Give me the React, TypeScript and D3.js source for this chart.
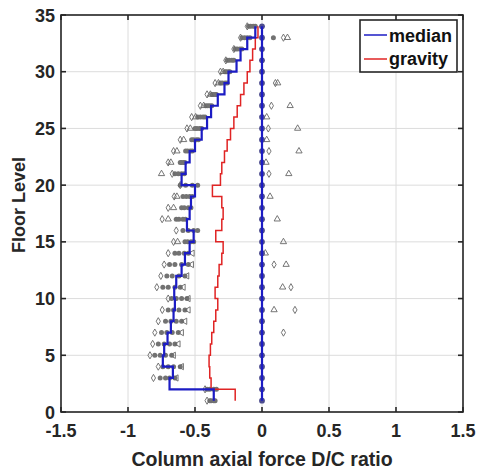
import React from "react";
import * as d3 from "d3";

const width = 479;
const height = 472;

// floor levels 1..34 and stories (segment from floor k to k+1)
const floors = [1, 2, 3, 4, 5, 6, 7, 8, 9, 10, 11, 12, 13, 14, 15, 16, 17, 18, 19, 20, 21, 22, 23, 24, 25, 26, 27, 28, 29, 30, 31, 32, 33, 34];
const stories = [1, 2, 3, 4, 5, 6, 7, 8, 9, 10, 11, 12, 13, 14, 15, 16, 17, 18, 19, 20, 21, 22, 23, 24, 25, 26, 27, 28, 29, 30, 31, 32, 33];

const medianVals = [-0.36, -0.69, -0.665, -0.74, -0.73, -0.705, -0.68, -0.66, -0.65, -0.655, -0.64, -0.6, -0.575, -0.54, -0.51, -0.56, -0.54, -0.53, -0.5, -0.6, -0.57, -0.54, -0.5, -0.45, -0.41, -0.38, -0.33, -0.28, -0.25, -0.19, -0.16, -0.11, -0.05];
const gravityVals = [-0.2, -0.38, -0.39, -0.395, -0.385, -0.375, -0.36, -0.345, -0.33, -0.35, -0.33, -0.32, -0.3, -0.29, -0.345, -0.3, -0.29, -0.3, -0.37, -0.31, -0.3, -0.28, -0.26, -0.235, -0.21, -0.185, -0.16, -0.135, -0.11, -0.09, -0.07, -0.05, -0.03];

// individual record results (gray filled dots), four per floor
const dotsA = [-0.39, -0.41, -0.76, -0.74, -0.8, -0.774, -0.75, -0.72, -0.7, -0.674, -0.74, -0.71, -0.69, -0.65, -0.575, -0.59, -0.64, -0.6, -0.59, -0.61, -0.65, -0.61, -0.57, -0.525, -0.5, -0.48, -0.42, -0.375, -0.31, -0.276, -0.26, -0.2, -0.15, -0.1];
const dotsB = [-0.38, -0.39, -0.72, -0.7, -0.76, -0.73, -0.71, -0.68, -0.66, -0.64, -0.7, -0.67, -0.65, -0.62, -0.555, -0.55, -0.62, -0.58, -0.565, -0.57, -0.625, -0.6, -0.555, -0.51, -0.485, -0.46, -0.405, -0.365, -0.295, -0.265, -0.245, -0.185, -0.13, -0.085];
const dotsC = [-0.36, -0.36, -0.69, -0.66, -0.72, -0.69, -0.67, -0.64, -0.62, -0.6, -0.65, -0.62, -0.6, -0.58, -0.53, -0.51, -0.59, -0.55, -0.54, -0.52, -0.6, -0.585, -0.535, -0.49, -0.465, -0.44, -0.39, -0.35, -0.275, -0.25, -0.225, -0.165, -0.11, -0.065];
const dotsD = [-0.35, -0.34, -0.65, -0.61, -0.674, -0.65, -0.625, -0.6, -0.575, -0.56, -0.61, -0.575, -0.55, -0.55, -0.51, -0.48, -0.57, -0.53, -0.52, -0.48, -0.58, -0.575, -0.52, -0.475, -0.45, -0.425, -0.375, -0.34, -0.26, -0.24, -0.21, -0.15, -0.09, -0.05];

// open markers on the compression side (null = not shown)
const diamondL = [-0.41, -0.425, -0.81, -0.774, -0.836, -0.816, -0.8, -0.774, -0.744, -0.7, -0.785, -0.755, -0.73, -0.7, -0.66, -0.64, -0.745, -0.7, -0.655, -0.61, -0.67, -0.7, -0.66, -0.61, -0.56, -0.525, -0.46, -0.41, -0.35, -0.31, -0.27, -0.21, -0.16, -0.11];
const triUpL = [null, null, null, null, null, null, null, null, null, null, null, null, null, null, -0.63, null, -0.7, -0.66, -0.635, null, -0.75, -0.68, -0.635, -0.585, -0.535, -0.495, -0.435, -0.385, -0.325, -0.29, null, null, null, null];
const triLeftL = [null, null, -0.64, -0.6, -0.66, -0.625, -0.6, -0.575, -0.55, -0.55, -0.587, -0.56, -0.525, -0.52, null, null, null, null, null, null, null, null, null, null, null, null, null, null, null, null, null, null, null, null];

// tension side records
const rightDiamondFloors = [33, 29, 27, 25, 23, 21, 13, 11, 9, 7];
const rightDiamondVals = [0.16, 0.1, 0.07, 0.047, 0.052, 0.052, 0.09, 0.216, 0.246, 0.16];
const rightTriFloors = [33, 29, 27, 26, 25, 24, 23, 22, 21, 19, 17, 15, 14, 13, 11, 9];
const rightTriVals = [0.19, 0.117, 0.21, 0.035, 0.266, 0.035, 0.276, 0.03, 0.2, 0.06, 0.114, 0.16, 0.025, 0.18, 0.154, 0.09];
const rightDotFloors = [33];
const rightDotVals = [0.085];
const zeroVals = floors.map(() => 0);

const xTicks = [-1.5, -1, -0.5, 0, 0.5, 1, 1.5];
const yTicks = [0, 5, 10, 15, 20, 25, 30, 35];

const left = 61;
const right = 463;
const top = 15;
const bottom = 412;
const font = "'Liberation Sans', Arial, Helvetica, sans-serif";

export default function App() {
  const x = d3.scaleLinear().domain([-1.5, 1.5]).range([left, right]);
  const y = d3.scaleLinear().domain([0, 35]).range([bottom, top]);

  const stairs = (vals: number[]) => {
    const pts: [number, number][] = [];
    stories.forEach((k, i) => {
      pts.push([vals[i], k]);
      pts.push([vals[i], k + 1]);
    });
    return d3
      .line<[number, number]>()
      .x((d) => x(d[0]))
      .y((d) => y(d[1]))(pts) as string;
  };

  const diamond = d3.symbol().type(d3.symbolDiamond).size(15)() as string;
  const tri = d3.symbol().type(d3.symbolTriangle).size(17)() as string;
  const gray = "#727272";
  const mk = "#666";

  return (
    <svg
      width={width}
      height={height}
      style={{ position: "absolute", left: 0, top: 0, background: "#fff" }}
    >
      <rect x={0} y={0} width={width} height={height} fill="#fff" />
      {/* grid */}
      <g stroke="#dcdcdc" strokeWidth={1}>
        {xTicks.map((t) => (
          <line key={"gx" + t} x1={x(t)} x2={x(t)} y1={top} y2={bottom} />
        ))}
        {yTicks.map((t) => (
          <line key={"gy" + t} x1={left} x2={right} y1={y(t)} y2={y(t)} />
        ))}
      </g>

      {/* record dots */}
      <g fill={gray}>
        {[dotsA, dotsB, dotsC, dotsD].map((arr, j) =>
          arr.map((v, i) => (
            <circle key={"d" + j + "-" + i} cx={x(v)} cy={y(floors[i])} r={2.5} />
          ))
        )}
        {rightDotFloors.map((f, i) => (
          <circle key={"rd" + i} cx={x(rightDotVals[i])} cy={y(f)} r={2.5} />
        ))}
      </g>
      <g fill="none" stroke={mk} strokeWidth={0.9}>
        {diamondL.map((v, i) =>
          v === null ? null : (
            <path key={"dl" + i} d={diamond} transform={`translate(${x(v)},${y(floors[i])})`} />
          )
        )}
        {triUpL.map((v, i) =>
          v === null ? null : (
            <path key={"tl" + i} d={tri} transform={`translate(${x(v)},${y(floors[i])})`} />
          )
        )}
        {triLeftL.map((v, i) =>
          v === null ? null : (
            <path
              key={"ll" + i}
              d={tri}
              transform={`translate(${x(v)},${y(floors[i])}) rotate(-90)`}
            />
          )
        )}
        {rightDiamondFloors.map((f, i) => (
          <path key={"rdm" + i} d={diamond} transform={`translate(${x(rightDiamondVals[i])},${y(f)})`} />
        ))}
        {rightTriFloors.map((f, i) => (
          <path key={"rt" + i} d={tri} transform={`translate(${x(rightTriVals[i])},${y(f)})`} />
        ))}
      </g>

      {/* gravity and median profiles */}
      <path d={stairs(gravityVals)} fill="none" stroke="#e02424" strokeWidth={1.5} />
      <path d={stairs(medianVals)} fill="none" stroke="#1c1cc4" strokeWidth={2.2} />

      {/* records near zero */}
      <g fill="#4c4c8e">
        {zeroVals.map((v, i) => (
          <circle key={"z" + i} cx={x(v)} cy={y(floors[i])} r={2.9} />
        ))}
      </g>
      <line x1={x(0)} x2={x(0)} y1={y(1)} y2={y(34)} stroke="#1c1cc4" strokeWidth={2.2} />

      {/* axes box and ticks */}
      <g stroke="#262626" strokeWidth={1.6}>
        {xTicks.map((t) => (
          <g key={"tx" + t}>
            <line x1={x(t)} x2={x(t)} y1={bottom} y2={bottom - 5} />
            <line x1={x(t)} x2={x(t)} y1={top} y2={top + 5} />
          </g>
        ))}
        {yTicks.map((t) => (
          <g key={"ty" + t}>
            <line x1={left} x2={left + 5} y1={y(t)} y2={y(t)} />
            <line x1={right} x2={right - 5} y1={y(t)} y2={y(t)} />
          </g>
        ))}
        <rect x={left} y={top} width={right - left} height={bottom - top} fill="none" />
      </g>

      <g fontFamily={font} fontWeight="bold" fontSize={18} fill="#262626">
        {xTicks.map((t) => (
          <text key={"lx" + t} x={x(t)} y={437} textAnchor="middle">
            {String(t)}
          </text>
        ))}
        {yTicks.map((t) => (
          <text key={"ly" + t} x={left - 6} y={y(t) + 6.5} textAnchor="end">
            {String(t)}
          </text>
        ))}
        <text x={x(0)} y={466} textAnchor="middle" fontSize={19.5}>
          Column axial force D/C ratio
        </text>
        <text transform="translate(25,205) rotate(-90)" textAnchor="middle">
          Floor Level
        </text>
      </g>

      {/* legend */}
      <g>
        <rect x={360} y={20} width={97} height={52} fill="#fff" stroke="#262626" strokeWidth={1.6} />
        <line x1={364} x2={387} y1={35} y2={35} stroke="#1c1cc4" strokeWidth={1.5} />
        <line x1={364} x2={387} y1={59} y2={59} stroke="#e02424" strokeWidth={1.5} />
        <g fontFamily={font} fontWeight="bold" fontSize={18} fill="#111">
          <text x={389} y={41.5}>median</text>
          <text x={389} y={65}>gravity</text>
        </g>
      </g>
    </svg>
  );
}
